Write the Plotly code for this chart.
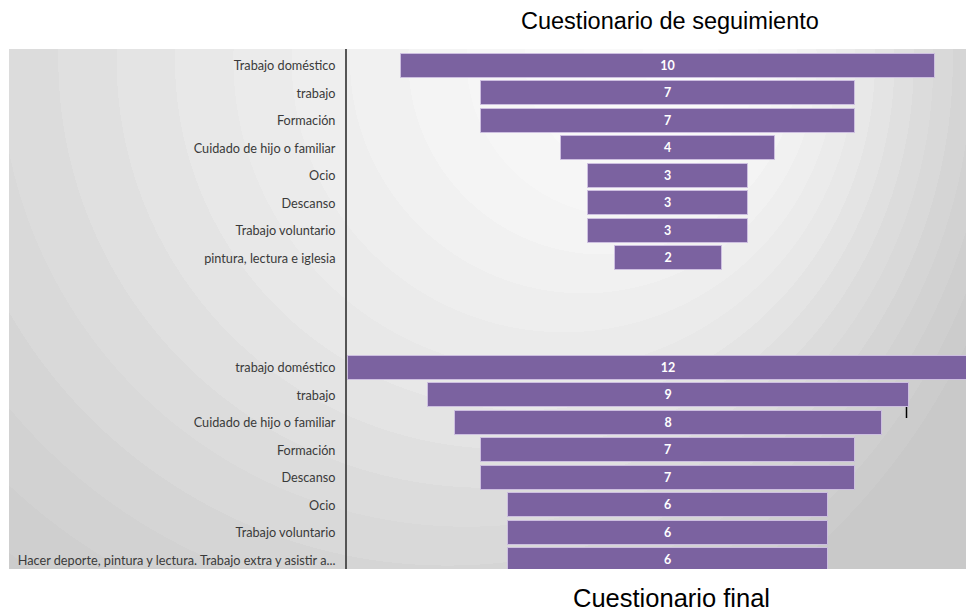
import base64
import plotly.graph_objects as go

# ---- data ----
seguimiento_labels = ["Trabajo doméstico", "trabajo", "Formación", "Cuidado de hijo o familiar",
                      "Ocio", "Descanso", "Trabajo voluntario", "pintura, lectura e iglesia"]
seguimiento_values = [10, 7, 7, 4, 3, 3, 3, 2]

final_labels = ["trabajo doméstico", "trabajo", "Cuidado de hijo o familiar", "Formación",
                "Descanso", "Ocio", "Trabajo voluntario",
                "Hacer deporte, pintura y lectura. Trabajo extra y asistir a..."]
final_values = [12, 9, 8, 7, 7, 6, 6, 6]

title_top = "Cuestionario de seguimiento"
title_bottom = "Cuestionario final"

# row positions: two groups separated by three empty slots
gap_rows = 3
pos_top = list(range(len(seguimiento_values)))
pos_bottom = [len(seguimiento_values) + gap_rows + i for i in range(len(final_values))]

all_pos = pos_top + pos_bottom
all_vals = seguimiento_values + final_values
all_labels = seguimiento_labels + final_labels

# page body has an 8px margin: work in screen pixels, then subtract it
OFF = 8
SW, SH = 974, 609
W, H = SW - OFF, SH - OFF
L = 347 - OFF
T = 49 - OFF
plot_bottom = 569 - OFF
R = 0
B = H - plot_bottom
plot_w = W - L - R
plot_h = plot_bottom - T

# ---- background: banded radial gradient (svg image) ----
bg_x0 = 9 - OFF
bg_w = W - bg_x0
bg_h = plot_h
def gray(t):
    pts = [(0, 252), (0.25, 244), (0.45, 233), (0.6, 223), (0.75, 213), (0.9, 205), (1.0, 199)]
    for (t0, g0), (t1, g1) in zip(pts[:-1], pts[1:]):
        if t <= t1:
            return g0 + (g1 - g0) * (t - t0) / (t1 - t0)
    return pts[-1][1]
nb = 18
stops = []
for i in range(nb):
    g = int(round(gray((i + 0.5) / nb)))
    c = f"rgb({g},{g},{g})"
    stops.append(f'<stop offset="{i/nb:.4f}" stop-color="{c}"/>')
    stops.append(f'<stop offset="{(i+1)/nb:.4f}" stop-color="{c}"/>')
fx, fy = 700 - 9, 60 - 49
cx, cy = 350 - 9, 60 - 49
svg = (f'<svg xmlns="http://www.w3.org/2000/svg" width="{bg_w}" height="{bg_h}" '
       f'viewBox="0 0 {bg_w} {bg_h}" preserveAspectRatio="none">'
       f'<defs><radialGradient id="g" gradientUnits="userSpaceOnUse" cx="{cx}" cy="{cy}" '
       f'fx="{fx}" fy="{fy}" r="700">{"".join(stops)}</radialGradient></defs>'
       f'<rect x="0" y="0" width="{bg_w}" height="{bg_h}" fill="url(#g)"/></svg>')
svg_uri = "data:image/svg+xml;base64," + base64.b64encode(svg.encode()).decode()

fig = go.Figure()
fig.add_trace(go.Bar(
    y=all_pos,
    x=all_vals,
    base=[-v / 2 for v in all_vals],
    orientation="h",
    width=0.875,
    marker=dict(color="#7b62a0", line=dict(color="#cdbfe0", width=1)),
    text=[str(v) for v in all_vals],
    textposition="inside",
    insidetextanchor="middle",
    textfont=dict(family="Lato", size=12.5, color="white", weight="bold"),
    hoverinfo="skip",
))

px_per_unit = 53.4
center_px = 668.2 - OFF
x_lo = (L - center_px) / px_per_unit
x_hi = (W - R - center_px) / px_per_unit
row0_px, row_step = 66.0 - OFF, 27.45
y_top = (T - row0_px) / row_step
y_bot = (plot_bottom - row0_px) / row_step

def px_x(sx):
    return (sx - OFF - L) / plot_w

def px_y(sy):
    return (plot_bottom - (sy - OFF)) / plot_h

fig.update_layout(
    width=W, height=H,
    margin=dict(l=L, r=R, t=T, b=B, autoexpand=False),
    paper_bgcolor="white",
    plot_bgcolor="rgba(0,0,0,0)",
    showlegend=False,
    bargap=0,
    xaxis=dict(range=[x_lo, x_hi], visible=False, fixedrange=True),
    yaxis=dict(range=[y_bot, y_top], tickvals=all_pos, ticktext=all_labels,
               showgrid=False, zeroline=False, showline=True, linecolor="#555555", linewidth=2,
               ticks="outside", ticklen=7, tickcolor="rgba(0,0,0,0)",
               tickfont=dict(family="Lato", size=12.7, color="#3a3a3a"), fixedrange=True),
    images=[dict(source=svg_uri, xref="paper", yref="paper",
                 x=(bg_x0 - L) / plot_w, y=1, sizex=bg_w / plot_w, sizey=1,
                 xanchor="left", yanchor="top", sizing="stretch", layer="below")],
    annotations=[
        dict(text=title_top, xref="paper", yref="paper", x=px_x(670), y=px_y(21),
             yanchor="middle", xanchor="center", showarrow=False,
             font=dict(family="Liberation Sans", size=23.5, color="black")),
        dict(text=title_bottom, xref="paper", yref="paper", x=px_x(671), y=px_y(598),
             yanchor="middle", xanchor="center", showarrow=False,
             font=dict(family="Liberation Sans", size=25.5, color="black")),
    ],
    shapes=[dict(type="line", xref="paper", yref="paper",
                 x0=px_x(906.5), x1=px_x(906.5), y0=px_y(407), y1=px_y(418),
                 line=dict(color="black", width=1.5))],
)

fig.write_html("out.html")
